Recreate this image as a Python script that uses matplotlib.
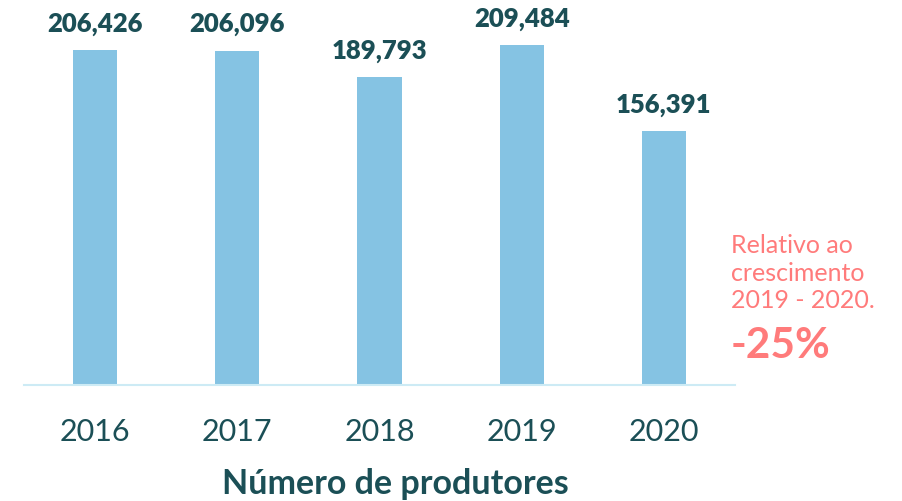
import matplotlib
matplotlib.use("Agg")
import matplotlib.pyplot as plt

years = ["2016", "2017", "2018", "2019", "2020"]
producers = [206426, 206096, 189793, 209484, 156391]
title = "Número de produtores"
note_lines = ["Relativo ao", "crescimento", "2019 - 2020."]
note_value = "-25%"

W, H = 902, 502
fig = plt.figure(figsize=(W / 100, H / 100), dpi=100)
ax = fig.add_axes([24 / W, 116 / H, 711 / W, 386 / H])

bar_color = "#85C3E3"
dark = "#1B4F56"
salmon = "#FF7B7B"

x = range(len(years))
ax.bar(x, producers, width=0.31, color=bar_color, zorder=2)
ax.set_xlim(-0.5, 4.5)
ax.set_ylim(0, 206426 * 386 / 335)

for xi, v in zip(x, producers):
    ax.annotate(f"{v:,}", (xi, v), xytext=(0, 11), textcoords="offset points",
                ha="center", va="bottom", fontsize=18.5, fontweight="heavy",
                color=dark, family="Lato")

for s in ["top", "right", "left"]:
    ax.spines[s].set_visible(False)
ax.spines["bottom"].set_color("#CDEBF5")
ax.spines["bottom"].set_linewidth(1.5)
ax.set_yticks([])
ax.set_xticks(list(x))
ax.set_xticklabels(years, fontsize=22, color=dark, family="Lato")
ax.tick_params(axis="x", length=0, pad=23)

fig.text(395 / W, 1 - 484 / H, title, ha="center", va="center", fontsize=24.5,
         fontweight="bold", color=dark, family="Lato")

for i, line in enumerate(note_lines):
    fig.text(731 / W, 1 - (246 + 27.5 * i) / H, line, ha="left", va="center",
             fontsize=18, color=salmon, family="Lato")
fig.text(731 / W, 1 - 346 / H, note_value, ha="left", va="center",
         fontsize=30.5, fontweight="bold", color=salmon, family="Lato")

fig.savefig("out.png", dpi=100)
